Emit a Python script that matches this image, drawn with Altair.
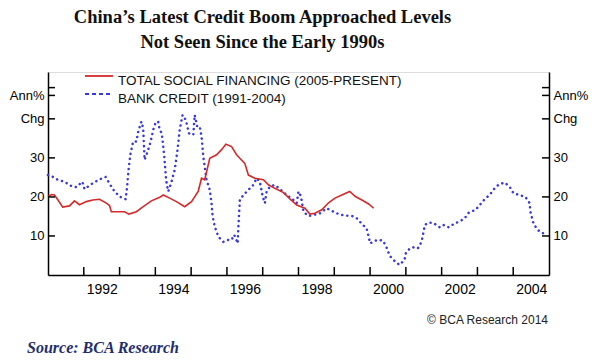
import altair as alt
import pandas as pd

# ---------------- data ----------------
title_lines = ["China\u2019s Latest Credit Boom Approached Levels",
               "Not Seen Since the Early 1990s"]
series_names = ["TOTAL SOCIAL FINANCING (2005-PRESENT)", "BANK CREDIT (1991-2004)"]
series_colors = ["#d42a2a", "#3838e0"]
credit_text = "\u00a9 BCA Research 2014"
source_text = "Source: BCA Research"

# Total social financing, 2005-present (plotted shifted back 14 years)
tsf_year = [2005.00, 2005.10, 2005.18, 2005.28, 2005.41, 2005.60, 2005.74, 2005.88,
            2006.07, 2006.25, 2006.44, 2006.63, 2006.72, 2006.77, 2006.96, 2007.14,
            2007.26, 2007.47, 2007.66, 2007.89, 2008.12, 2008.22, 2008.40, 2008.59,
            2008.82, 2009.01, 2009.20, 2009.29, 2009.38, 2009.52, 2009.71, 2009.85,
            2009.97, 2010.13, 2010.27, 2010.36, 2010.50, 2010.60, 2010.78, 2011.02,
            2011.16, 2011.34, 2011.58, 2011.76, 2011.95, 2012.18, 2012.32, 2012.46,
            2012.65, 2012.84, 2013.02, 2013.21, 2013.43, 2013.59, 2013.77, 2013.96,
            2014.10]
tsf_value = [20.1, 20.6, 20.5, 19.2, 17.4, 17.7, 19.0, 18.0,
             18.8, 19.2, 19.4, 18.4, 17.8, 16.2, 16.2, 16.2,
             15.6, 16.2, 17.5, 19.0, 19.9, 20.5, 19.7, 18.8,
             17.5, 18.8, 21.5, 24.8, 24.4, 29.9, 30.8, 32.1,
             33.5, 32.9, 30.8, 29.9, 28.6, 25.6, 24.8, 24.4,
             23.1, 22.2, 21.1, 19.5, 17.9, 17.1, 15.6, 15.8,
             16.7, 18.5, 19.7, 20.5, 21.4, 20.1, 19.2, 18.2,
             17.1]
TSF_SHIFT = 14

# Bank credit, 1991-2004
bank_year = [1991.00, 1991.09, 1991.27, 1991.46, 1991.65, 1991.79, 1991.96, 1992.02,
             1992.14, 1992.25, 1992.42, 1992.61, 1992.74, 1992.86, 1993.00, 1993.17,
             1993.21, 1993.26, 1993.30, 1993.38, 1993.47, 1993.52, 1993.61, 1993.66,
             1993.70, 1993.80, 1993.87, 1993.94, 1994.01, 1994.08, 1994.12, 1994.18,
             1994.25, 1994.30, 1994.36, 1994.44, 1994.54, 1994.62, 1994.68, 1994.76,
             1994.85, 1994.94, 1995.06, 1995.10, 1995.17, 1995.24, 1995.29, 1995.34,
             1995.43, 1995.52, 1995.57, 1995.60, 1995.66, 1995.76, 1995.90, 1996.04,
             1996.13, 1996.20, 1996.25, 1996.30, 1996.32, 1996.36, 1996.46, 1996.60,
             1996.74, 1996.83, 1996.92, 1997.00, 1997.06, 1997.11, 1997.20, 1997.34,
             1997.48, 1997.67, 1997.86, 1997.95, 1998.00, 1998.07, 1998.10, 1998.14,
             1998.28, 1998.42, 1998.60, 1998.79, 1998.98, 1999.17, 1999.35, 1999.50,
             1999.63, 1999.80, 1999.90, 1999.96, 2000.00, 2000.15, 2000.24, 2000.36,
             2000.45, 2000.55, 2000.66, 2000.82, 2000.96, 2001.00, 2001.11, 2001.20,
             2001.33, 2001.40, 2001.46, 2001.53, 2001.62, 2001.76, 2001.95, 2002.05,
             2002.20, 2002.36, 2002.50, 2002.64, 2002.76, 2002.95, 2003.06, 2003.20,
             2003.34, 2003.48, 2003.60, 2003.76, 2003.90, 2004.01, 2004.18, 2004.35,
             2004.46, 2004.48, 2004.57, 2004.69, 2004.82, 2004.92]
bank_value = [25.6, 25.4, 24.4, 23.9, 22.8, 22.5, 23.9, 22.0,
              22.8, 23.5, 24.4, 25.1, 23.1, 21.4, 20.1, 19.4,
              22.6, 27.8, 30.8, 34.2, 34.2, 36.7, 39.3, 37.6,
              29.5, 32.1, 34.2, 37.2, 39.1, 39.3, 37.2, 36.3,
              30.3, 24.4, 21.4, 23.5, 26.9, 32.1, 37.2, 41.0,
              39.7, 36.3, 35.9, 41.0, 38.0, 38.0, 35.5, 30.3,
              24.4, 21.8, 18.4, 15.0, 12.4, 9.8, 8.5, 9.0,
              9.0, 10.3, 9.4, 8.1, 12.4, 19.2, 20.5, 21.8,
              23.1, 24.8, 23.9, 20.1, 18.4, 21.4, 22.6, 23.1,
              22.0, 20.5, 19.2, 18.4, 21.4, 20.1, 18.4, 16.2,
              15.1, 15.4, 15.8, 17.1, 16.2, 15.4, 15.2, 15.1,
              14.5, 12.8, 12.0, 9.8, 8.1, 8.8, 9.0, 8.8,
              7.3, 4.9, 3.8, 2.6, 3.8, 5.6, 6.8, 7.1,
              6.8, 7.7, 9.4, 12.8, 13.4, 13.4, 12.2, 12.8,
              12.2, 13.2, 13.7, 14.5, 16.0, 16.7, 17.9, 19.4,
              20.5, 22.2, 23.2, 23.7, 22.6, 20.9, 20.5, 19.9,
              18.4, 16.2, 13.1, 11.5, 10.7, 10.8]

year_ticks = list(range(1992, 2005))
y_ticks = [10, 20, 30, 40, 46, 48]
y_tick_text = {40: "Chg", 46: "Ann%", 48: ""}

# ---------------- layout ----------------
W, H = 501, 203
Y_DOMAIN = [0, 52]
X_DOMAIN = [1991, 2005]
TICK = 7
FONT = "Liberation Sans"

tsf_df = pd.DataFrame({"year": tsf_year, "value": tsf_value})
tsf_df["x"] = tsf_df["year"] - TSF_SHIFT
tsf_df["series"] = series_names[0]
bank_df = pd.DataFrame({"x": bank_year, "value": bank_value})
bank_df["series"] = series_names[1]
xt_df = pd.DataFrame({"x": year_ticks})
yt_df = pd.DataFrame({"v": y_ticks})

xscale = alt.Scale(domain=X_DOMAIN, nice=False, zero=False)


def yscale():
    return alt.Scale(domain=Y_DOMAIN, nice=False, zero=True)


label_expr = " : ".join(
    [f"datum.value == {k} ? '{v}'" for k, v in y_tick_text.items()] + ["datum.label"]
)

y_axis_common = dict(values=y_ticks, labelExpr=label_expr, ticks=False, grid=False,
                     domainColor="#000", domainWidth=1.5, labelFont=FONT,
                     labelFontSize=13, labelColor="#000", labelPadding=4,
                     labelOverlap=False, title=None)

bank = alt.Chart(bank_df).mark_line(
    color=series_colors[1], strokeWidth=2.5, strokeDash=[0.1, 5], strokeCap="round"
).encode(
    x=alt.X("x:Q", scale=xscale,
            axis=alt.Axis(values=year_ticks, format="d",
                          labelExpr="datum.value % 2 == 0 ? datum.label : ''",
                          labelOffset=18, ticks=False, grid=False,
                          domainColor="#000", domainWidth=1.5,
                          labelFont=FONT, labelFontSize=14, labelColor="#000",
                          labelPadding=7, labelOverlap=False, title=None)),
    y=alt.Y("value:Q", scale=yscale(), axis=alt.Axis(orient="left", **y_axis_common)),
)

tsf = alt.Chart(tsf_df).mark_line(
    color=series_colors[0], strokeWidth=1.6
).encode(
    x=alt.X("x:Q", scale=xscale),
    y=alt.Y("value:Q", scale=yscale(), axis=None),
)

left_ticks = alt.Chart(yt_df).mark_rule(color="#000", strokeWidth=1.5).encode(
    y=alt.Y("v:Q", scale=yscale(), axis=None),
    x=alt.value(0), x2=alt.value(TICK),
)
right_ticks = alt.Chart(yt_df).mark_rule(color="#000", strokeWidth=1.5).encode(
    y=alt.Y("v:Q", scale=yscale(), axis=alt.Axis(orient="right", **y_axis_common)),
    x=alt.value(W - TICK), x2=alt.value(W),
)
x_ticks = alt.Chart(xt_df).mark_rule(color="#000", strokeWidth=1.5).encode(
    x=alt.X("x:Q", scale=xscale),
    y=alt.value(H), y2=alt.value(H - 8),
)

# legend (drawn at the top-left of the plot)
leg_layers = []
leg_rows = [(4, 13), (22, 31)]
for i, (name, col) in enumerate(zip(series_names, series_colors)):
    ly, ty = leg_rows[i]
    d = pd.DataFrame({"name": [name]})
    if i == 0:
        sym = alt.Chart(d).mark_rule(color=col, strokeWidth=1.8)
    else:
        sym = alt.Chart(d).mark_rule(color=col, strokeWidth=2, strokeDash=[4, 3])
    leg_layers.append(sym.encode(x=alt.value(37), x2=alt.value(65), y=alt.value(ly)))
    leg_layers.append(
        alt.Chart(d).mark_text(align="left", baseline="alphabetic", font=FONT,
                               fontSize=13.5, color="#111").encode(
            text="name:N", x=alt.value(70), y=alt.value(ty))
    )

credit = alt.Chart(pd.DataFrame({"t": [credit_text]})).mark_text(
    align="right", baseline="alphabetic", font=FONT, fontSize=12, color="#222"
).encode(text="t:N", x=alt.value(W - 1), y=alt.value(252))

source = alt.Chart(pd.DataFrame({"t": [source_text]})).mark_text(
    align="left", baseline="alphabetic", font="Liberation Serif", fontSize=16,
    fontStyle="italic", fontWeight="bold", color="#1f2d6e"
).encode(text="t:N", x=alt.value(-21), y=alt.value(281))

chart = alt.layer(
    bank, tsf, left_ticks, right_ticks, x_ticks, *leg_layers, credit, source
).resolve_scale(y="independent").properties(
    width=W, height=H,
    autosize=alt.AutoSizeParams(type="none"),
    padding={"left": 40, "top": 64, "right": 43, "bottom": 81},
    title=alt.TitleParams(text=title_lines, font="Liberation Serif", fontSize=18.5,
                          fontWeight="bold", color="#111", anchor="middle",
                          frame="group", dx=-36, offset=21, lineHeight=25),
).configure_view(stroke=None).configure(background="white")

chart.save("out.html", embed_options={"renderer": "svg", "actions": False})
